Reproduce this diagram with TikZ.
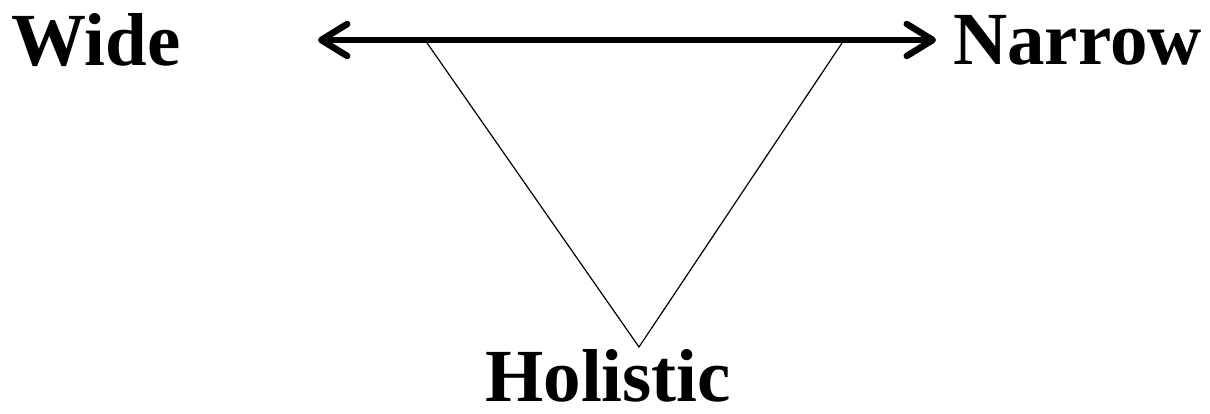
\documentclass[tikz,border=0pt]{standalone}
\usepackage{fontspec}
\setmainfont{Liberation Serif}
\usetikzlibrary{arrows.meta, positioning}

\begin{document}
\begin{tikzpicture}[
    x=1pt, y=-1pt,
    label/.style={inner sep=0pt, anchor=base west, font=\fontsize{75}{82}\selectfont\bfseries},
    arrow/.style={{Straight Barb[length=26pt, width=32pt, line cap=round, line join=round]}-{Straight Barb[length=26pt, width=32pt, line cap=round, line join=round]}, line width=6.5pt},
    edge/.style={line width=1.2pt, line join=miter}
]
    \useasboundingbox (0,0) rectangle (1210,414);

    % Labels
    \node[label] (wide) at (11,66) {Wide};
    \node[label] (narrow) at (953,65) {Narrow};
    \node[label] (holistic) at (485,401) {Holistic};

    % Ends of the scale
    \coordinate (l) at (318,40);
    \coordinate (r) at (936,40);

    % Triangle
    \coordinate (t1) at (425,40);
    \coordinate (t2) at (844,40);
    \coordinate (t3) at (639,347);
    \draw[edge] (t1) -- (t3) -- (t2);

    % Connectors
    \draw[arrow] (l) -- (r);
\end{tikzpicture}
\end{document}
